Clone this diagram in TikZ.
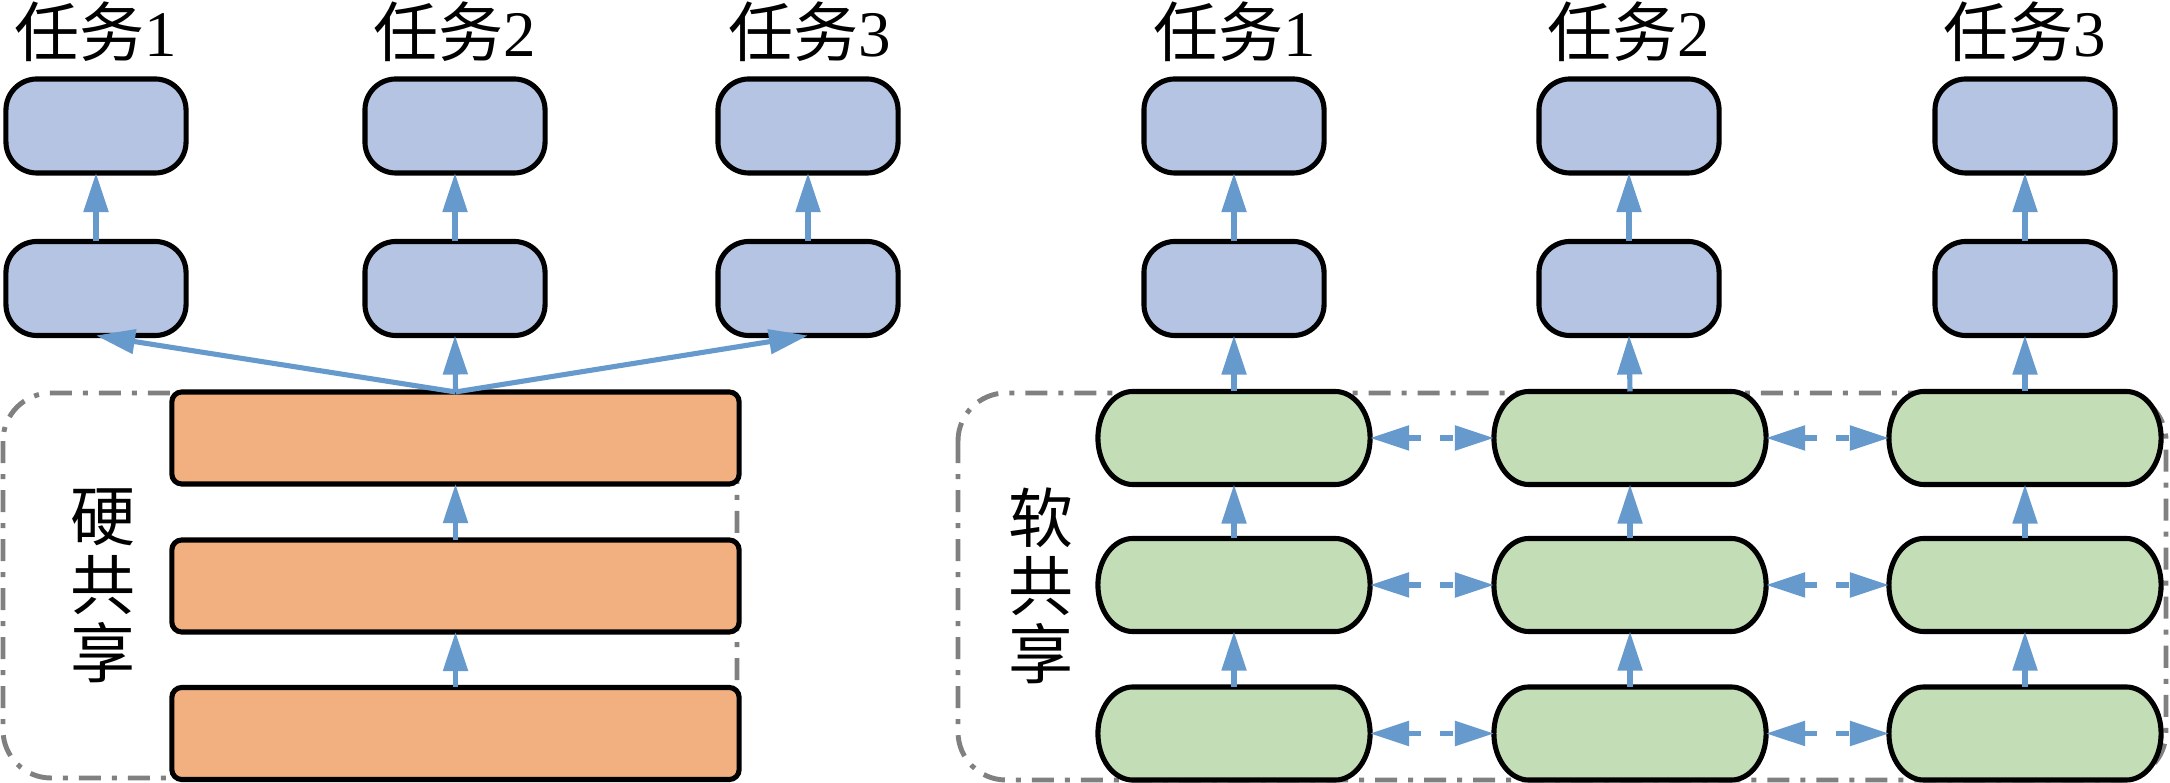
\documentclass[tikz,border=0pt]{standalone}
\usepackage{fontspec}
\setmainfont{Liberation Serif}
\newfontfamily\cjk{Noto Sans CJK SC}
\usetikzlibrary{arrows.meta,calc}
\definecolor{boxblue}{RGB}{180,196,226}
\definecolor{boxorange}{RGB}{242,176,128}
\definecolor{boxgreen}{RGB}{195,222,182}
\definecolor{arrowblue}{RGB}{102,153,204}
\definecolor{dashgray}{RGB}{128,128,128}
\tikzset{
  bluebox/.style={rectangle, draw=black, line width=1.45pt, fill=boxblue, rounded corners=0.31cm,
    minimum width=1.8cm, minimum height=0.94cm, inner sep=0pt, outer sep=0pt},
  orangebox/.style={rectangle, draw=black, line width=1.45pt, fill=boxorange, rounded corners=0.1cm,
    minimum width=5.67cm, minimum height=0.92cm, inner sep=0pt, outer sep=0pt},
  greennode/.style={rectangle, minimum width=2.72cm, minimum height=0.93cm, inner sep=0pt, outer sep=0pt},
  greenshape/.style={draw=black, line width=1.45pt, fill=boxgreen},
  dashbox/.style={draw=dashgray, line width=1.4pt, rounded corners=0.48cm,
    dash pattern=on 0.22cm off 0.11cm on 0.05cm off 0.11cm},
  arr/.style={-{Triangle[length=0.39cm,width=0.24cm]}, line width=1.45pt, draw=arrowblue},
  darr/.style={{Triangle[length=0.39cm,width=0.24cm]}-{Triangle[length=0.39cm,width=0.24cm]},
    line width=1.5pt, draw=arrowblue, dash pattern=on 0.13cm off 0.19cm},
  tasklabel/.style={anchor=base, inner sep=0pt, font=\fontsize{18.5pt}{22pt}\selectfont},
  vlabel/.style={inner sep=0pt, align=center, font=\cjk\fontsize{18.5pt}{19.4pt}\selectfont}
}
\begin{document}
\begin{tikzpicture}[x=0.01cm,y=0.01cm]
\useasboundingbox (0,0) rectangle (2170,-783);
% dashed grouping boxes
\draw[dashbox] (3,-393) rectangle (737,-778);
\draw[dashbox] (958,-393) rectangle (2166,-780);
% left: hard sharing
\node[bluebox] (lt1) at (96,-126) {};
\node[bluebox] (lt2) at (455,-126) {};
\node[bluebox] (lt3) at (808,-126) {};
\node[bluebox] (lm1) at (96,-288.5) {};
\node[bluebox] (lm2) at (455,-288.5) {};
\node[bluebox] (lm3) at (808,-288.5) {};
\node[orangebox] (lo1) at (455.5,-438) {};
\node[orangebox] (lo2) at (455.5,-586) {};
\node[orangebox] (lo3) at (455.5,-733.5) {};
% right: soft sharing
\node[bluebox] (rt1) at (1234,-126) {};
\node[bluebox] (rt2) at (1629,-126) {};
\node[bluebox] (rt3) at (2025,-126) {};
\node[bluebox] (rm1) at (1234,-288.5) {};
\node[bluebox] (rm2) at (1629,-288.5) {};
\node[bluebox] (rm3) at (2025,-288.5) {};
\foreach \r/\y in {1/-438,2/-585,3/-733.5}{
  \foreach \c/\x in {1/1234,2/1630,3/2025}{
    \node[greennode] (g\r\c) at (\x,\y) {};
    \path[greenshape] ($(g\r\c.north west)+(35,0)$) -- ($(g\r\c.north east)+(-35,0)$)
      arc[start angle=90,end angle=-90,x radius=0.35cm,y radius=0.465cm]
      -- ($(g\r\c.south west)+(35,0)$)
      arc[start angle=270,end angle=90,x radius=0.35cm,y radius=0.465cm] -- cycle;
  }
}
% arrows left
\draw[arr] (lm1.north) -- (lt1.south);
\draw[arr] (lm2.north) -- (lt2.south);
\draw[arr] (lm3.north) -- (lt3.south);
\draw[arr] (lo1.north) -- (lm1.south);
\draw[arr] (lo1.north) -- (lm2.south);
\draw[arr] (lo1.north) -- (lm3.south);
\draw[arr] (lo2.north) -- (lo1.south);
\draw[arr] (lo3.north) -- (lo2.south);
% arrows right
\foreach \c in {1,2,3}{
  \draw[arr] (rm\c.north) -- (rt\c.south);
  \draw[arr] (g1\c.north) -- (rm\c.south);
  \draw[arr] (g2\c.north) -- (g1\c.south);
  \draw[arr] (g3\c.north) -- (g2\c.south);
}
\foreach \r in {1,2,3}{
  \draw[darr] (g\r1.east) -- (g\r2.west);
  \draw[darr] (g\r2.east) -- (g\r3.west);
}
% labels
\node[tasklabel] (ll1) at (96,-57) {{\cjk 任务}1};
\node[tasklabel] (ll2) at (455,-57) {{\cjk 任务}2};
\node[tasklabel] (ll3) at (810,-57) {{\cjk 任务}3};
\node[tasklabel] (rl1) at (1235,-57) {{\cjk 任务}1};
\node[tasklabel] (rl2) at (1629,-57) {{\cjk 任务}2};
\node[tasklabel] (rl3) at (2025,-57) {{\cjk 任务}3};
\node[vlabel] (hard) at (103,-586) {硬\\共\\享};
\node[vlabel] (soft) at (1041,-586) {软\\共\\享};
\end{tikzpicture}
\end{document}
